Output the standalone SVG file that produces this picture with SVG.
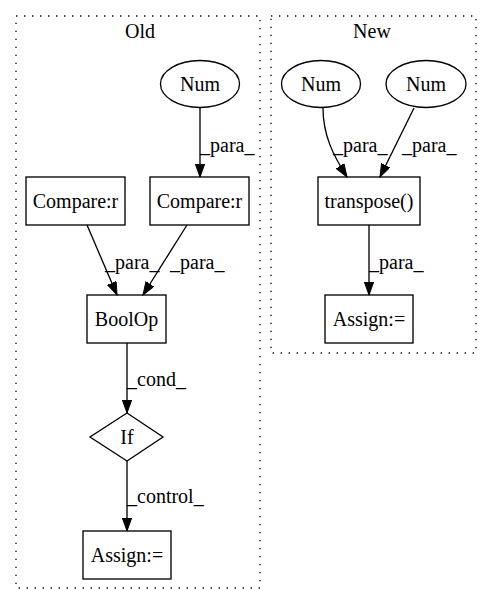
<svg xmlns="http://www.w3.org/2000/svg" width="492" height="606" viewBox="0 0 492 606">
<style>
text{font-family:"Liberation Serif","Times New Roman",serif;font-size:20px;fill:#000}
.c{text-anchor:middle}
.cl{fill:none;stroke:#000;stroke-width:1.33;stroke-dasharray:1.33,6.67}
.n{fill:none;stroke:#000;stroke-width:1.33}
.e{fill:none;stroke:#000;stroke-width:1.33;marker-end:url(#ah)}
</style>
<defs>
<marker id="ah" markerUnits="userSpaceOnUse" markerWidth="14" markerHeight="10" refX="13" refY="4.67" orient="auto">
<path d="M0,0 L13,4.67 L0,9.33 z" fill="#000" stroke="#000" stroke-width="1"/>
</marker>
</defs>
<rect width="492" height="606" fill="#fff"/>
<g id="cluster_old">
<rect class="cl" x="16" y="16" width="244" height="572"/>
<text class="c" x="140" y="38">Old</text>
</g>
<g id="cluster_new">
<rect class="cl" x="271" y="16" width="205" height="337"/>
<text class="c" x="372" y="38">New</text>
</g>
<g id="edges">
<path class="e" d="M200,108 L200,177"/>
<text x="200" y="152">_para_</text>
<path class="e" d="M87,225 L117,295"/>
<text x="105" y="269">_para_</text>
<path class="e" d="M187,225 L143,295"/>
<text x="170" y="269">_para_</text>
<path class="e" d="M127,343 L127,413"/>
<text x="127" y="386">_cond_</text>
<path class="e" d="M127,461 L127,531"/>
<text x="127" y="503">_control_</text>
<path class="e" d="M323,108 C323,135 333,155 347,177"/>
<text x="333" y="152">_para_</text>
<path class="e" d="M414,108 L380,177"/>
<text x="402" y="152">_para_</text>
<path class="e" d="M369,225 L369,295"/>
<text x="369" y="269">_para_</text>
</g>
<g id="num_old">
<ellipse class="n" cx="200" cy="84" rx="39.5" ry="23.5"/>
<text class="c" x="200" y="91">Num</text>
</g>
<g id="compare_left">
<rect class="n" x="26" y="177" width="99" height="48"/>
<text class="c" x="75.5" y="208">Compare:r</text>
</g>
<g id="compare_right">
<rect class="n" x="150" y="177" width="99" height="48"/>
<text class="c" x="199.5" y="208">Compare:r</text>
</g>
<g id="boolop">
<rect class="n" x="87" y="295" width="79" height="48"/>
<text class="c" x="126.5" y="326">BoolOp</text>
</g>
<g id="if">
<polygon class="n" points="127,413 163,437 127,461 90,437"/>
<text class="c" x="127" y="444">If</text>
</g>
<g id="assign_old">
<rect class="n" x="83" y="531" width="88" height="48"/>
<text class="c" x="127" y="562">Assign:=</text>
</g>
<g id="num_new1">
<ellipse class="n" cx="321" cy="84" rx="39.5" ry="23.5"/>
<text class="c" x="321" y="91">Num</text>
</g>
<g id="num_new2">
<ellipse class="n" cx="426" cy="84" rx="40" ry="23.5"/>
<text class="c" x="426" y="91">Num</text>
</g>
<g id="transpose">
<rect class="n" x="318" y="177" width="102" height="48"/>
<text class="c" x="369" y="208">transpose()</text>
</g>
<g id="assign_new">
<rect class="n" x="325" y="295" width="88" height="48"/>
<text class="c" x="369" y="326">Assign:=</text>
</g>
</svg>
